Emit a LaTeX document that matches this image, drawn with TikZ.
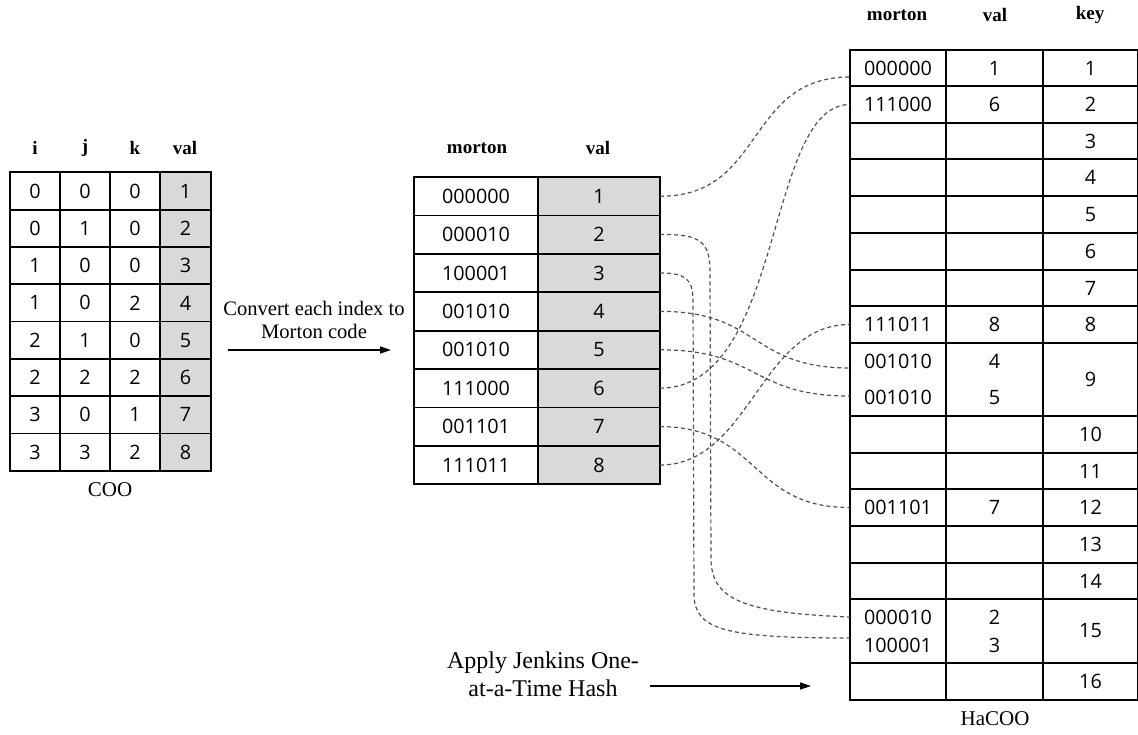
\documentclass[tikz,border=0pt]{standalone}
\usepackage{fontspec}
\setmainfont{Liberation Serif}
\newfontfamily\cellfont{Open Sans}
\usetikzlibrary{arrows.meta,calc}
\definecolor{cellgray}{HTML}{D9D9D9}
\definecolor{linkgray}{HTML}{505050}
\tikzset{
  cell/.style={draw=black, line width=1.8pt, inner sep=0pt, outer sep=0pt,
    align=center, font=\cellfont\fontsize{19.8}{23}\selectfont},
  shaded/.style={cell, fill=cellgray},
  head/.style={font=\bfseries\fontsize{19}{22}\selectfont, inner sep=0pt},
  caption/.style={font=\fontsize{21}{24}\selectfont, inner sep=0pt},
  note/.style={align=center, inner sep=0pt},
  link/.style={draw=linkgray, line width=1.2pt, dash pattern=on 4pt off 3pt},
  flow/.style={line width=1.5pt, -{Triangle[length=11pt,width=7pt]}}
}
% one row of the hash table: name, top, bottom, morton, val, key
\newcommand\HRow[6]{%
  \node[cell, minimum width=96, minimum height={#3-#2}] (#1m) at (898,{(#2+#3)/2}) {#4};
  \node[cell, minimum width=97, minimum height={#3-#2}] (#1v) at (994.5,{(#2+#3)/2}) {#5};
  \node[cell, minimum width=95, minimum height={#3-#2}] (#1k) at (1090.5,{(#2+#3)/2}) {#6};
}
% one row of the COO table: name, row centre, i, j, k, val
\newcommand\CRow[6]{%
  \node[cell, minimum width=50, minimum height=37.3] (#1i) at (35,#2) {#3};
  \node[cell, minimum width=50, minimum height=37.3] (#1j) at (85,#2) {#4};
  \node[cell, minimum width=50, minimum height=37.3] (#1k) at (135,#2) {#5};
  \node[shaded, minimum width=51, minimum height=37.3] (#1v) at (185.5,#2) {#6};
}
% one row of the Morton table: name, row centre, code, val
\newcommand\MRow[4]{%
  \node[cell, minimum width=124, minimum height=38.4] (#1c) at (476,#2) {#3};
  \node[shaded, minimum width=122, minimum height=38.4] (#1v) at (599,#2) {#4};
}
\begin{document}
\begin{tikzpicture}[x=1pt,y=-1pt]
\useasboundingbox (0,0) rectangle (1138,734);

% ---------- COO ----------
\node[head] (hi) at (35,148) {i};
\node[head] (hj) at (85,148) {j};
\node[head] (hk) at (135,148) {k};
\node[head] (hval) at (185,148) {val};
\CRow{c1}{191}{0}{0}{0}{1}
\CRow{c2}{228.3}{0}{1}{0}{2}
\CRow{c3}{265.6}{1}{0}{0}{3}
\CRow{c4}{302.9}{1}{0}{2}{4}
\CRow{c5}{340.2}{2}{1}{0}{5}
\CRow{c6}{377.5}{2}{2}{2}{6}
\CRow{c7}{414.8}{3}{0}{1}{7}
\CRow{c8}{452.1}{3}{3}{2}{8}
\node[caption] (coo) at (110,490) {COO};

% ---------- conversion arrow ----------
\node[note, font=\fontsize{20.6}{23.5}\selectfont] (conv) at (314,320) {Convert each index to\\Morton code};
\coordinate (a1s) at (228,350);
\coordinate (a1e) at (391,350);
\draw[flow] (a1s) -- (a1e);

% ---------- Morton table ----------
\node[head] (hmort) at (477,148) {morton};
\node[head] (hmval) at (598,148) {val};
\MRow{m1}{196.2}{000000}{1}
\MRow{m2}{234.6}{000010}{2}
\MRow{m3}{273.0}{100001}{3}
\MRow{m4}{311.4}{001010}{4}
\MRow{m5}{349.8}{001010}{5}
\MRow{m6}{388.2}{111000}{6}
\MRow{m7}{426.6}{001101}{7}
\MRow{m8}{465.0}{111011}{8}

% ---------- HaCOO table ----------
\node[head] (hhm) at (897,15) {morton};
\node[head] (hhv) at (995,15) {val};
\node[head] (hhk) at (1090,15) {key};
\HRow{h1}{50}{86}{000000}{1}{1}
\HRow{h2}{86}{123}{111000}{6}{2}
\HRow{h3}{123}{159}{}{}{3}
\HRow{h4}{159}{196}{}{}{4}
\HRow{h5}{196}{233}{}{}{5}
\HRow{h6}{233}{270}{}{}{6}
\HRow{h7}{270}{306}{}{}{7}
\HRow{h8}{306}{343}{111011}{8}{8}
\HRow{h9}{343}{416}{001010\\[13pt]001010}{4\\[13pt]5}{9}
\HRow{h10}{416}{453}{}{}{10}
\HRow{h11}{453}{489}{}{}{11}
\HRow{h12}{489}{526}{001101}{7}{12}
\HRow{h13}{526}{563}{}{}{13}
\HRow{h14}{563}{599}{}{}{14}
\HRow{h15}{599}{663}{000010\\[5pt]100001}{2\\[5pt]3}{15}
\HRow{h16}{663}{700}{}{}{16}
\node[caption] (hacoo) at (995,719) {HaCOO};

% ---------- hashing arrow ----------
\node[note, font=\fontsize{24}{28}\selectfont] (hash) at (543,674) {Apply Jenkins One-\\at-a-Time Hash};
\coordinate (a2s) at (650,686);
\coordinate (a2e) at (811,686);
\draw[flow] (a2s) -- (a2e);

% ---------- links from codes to hash slots ----------
\coordinate (t1) at (850,77);
\coordinate (t4) at (850,368);
\coordinate (t5) at (850,396);
\coordinate (t2) at (850,617);
\coordinate (t3) at (850,638);
\draw[link] (m1v.east) .. controls (765,197) and (745,77) .. (t1);
\draw[link] (m6v.east) .. controls (785,388) and (765,104) .. (h2m.west);
\draw[link] (m8v.east) .. controls (750,465) and (760,324) .. (h8m.west);
\draw[link] (m4v.east) .. controls (760,311) and (750,368) .. (t4);
\draw[link] (m5v.east) .. controls (760,350) and (750,396) .. (t5);
\draw[link] (m7v.east) .. controls (760,427) and (750,508) .. (h12m.west);
\draw[link] (m2v.east) .. controls (700,234) and (710,241) .. (710,272)
  -- (711,560) .. controls (712,600) and (745,613) .. (t2);
\draw[link] (m3v.east) .. controls (684,273) and (693,278) .. (693,300)
  -- (694,595) .. controls (695,630) and (725,638) .. (t3);
\end{tikzpicture}
\end{document}
